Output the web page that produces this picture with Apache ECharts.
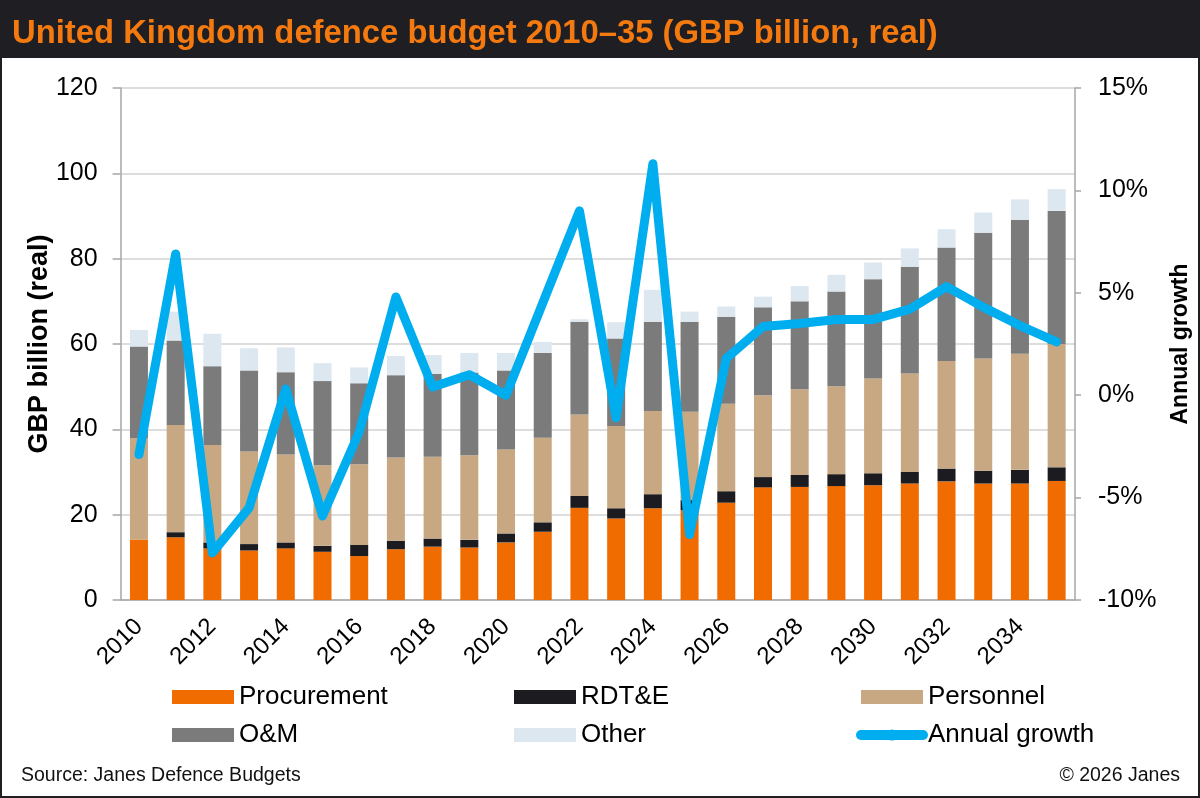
<!DOCTYPE html>
<html>
<head>
<meta charset="utf-8">
<title>United Kingdom defence budget 2010-35</title>
<script src="https://cdn.jsdelivr.net/npm/echarts@6.0.0/dist/echarts.min.js"></script>
<style>
html, body { margin: 0; padding: 0; background: #1f1e23; }
#chart { width: 1200px; height: 798px; }
</style>
</head>
<body>
<div id="chart"></div>
<script>
// 年份（类目轴）
var years = ['2010', '2011', '2012', '2013', '2014', '2015', '2016', '2017', '2018', '2019', '2020', '2021', '2022',
  '2023', '2024', '2025', '2026', '2027', '2028', '2029', '2030', '2031', '2032', '2033', '2034', '2035']

// 各项预算，GBP billion (real)
var procurement = [14.2, 14.7, 12.1, 11.6, 12.1, 11.3, 10.3, 11.9, 12.5, 12.3, 13.5, 16.0, 21.6,
  19.1, 21.5, 21.0, 22.8, 26.4, 26.5, 26.7, 26.9, 27.3, 27.8, 27.3, 27.3, 27.9]
var rdte = [0.0, 1.2, 1.4, 1.5, 1.4, 1.4, 2.6, 2.0, 1.9, 1.8, 2.1, 2.2, 2.8,
  2.4, 3.3, 2.4, 2.7, 2.4, 2.8, 2.8, 2.8, 2.7, 3.0, 3.0, 3.2, 3.2]
var personnel = [23.7, 25.1, 22.8, 21.7, 20.6, 18.9, 18.9, 19.5, 19.2, 19.8, 19.7, 19.8, 19.1,
  19.3, 19.5, 20.7, 20.5, 19.2, 20.1, 20.6, 22.2, 23.1, 25.2, 26.3, 27.2, 28.9]
var oandm = [21.5, 19.8, 18.5, 19.0, 19.3, 19.7, 19.0, 19.3, 19.4, 19.4, 18.5, 19.9, 21.7,
  20.5, 20.9, 21.1, 20.4, 20.6, 20.6, 22.2, 23.3, 25.0, 26.6, 29.5, 31.4, 31.2]
var other = [3.9, 6.8, 7.6, 5.2, 5.8, 4.2, 3.7, 4.5, 4.4, 4.6, 4.1, 2.6, 0.6,
  3.8, 7.5, 2.4, 2.4, 2.5, 3.6, 3.9, 3.9, 4.3, 4.3, 4.7, 4.8, 5.1]

// 年增长率 (%)
var growth = [-2.9, 6.9, -7.7, -5.5, 0.3, -5.9, -1.8, 4.8, 0.4, 1.0, 0.0, 4.5, 9.0,
  -1.1, 11.3, -6.8, 1.8, 3.35, 3.5, 3.7, 3.7, 4.2, 5.3, 4.3, 3.4, 2.6]

var FONT = "'Liberation Sans', Arial, sans-serif"
var AXIS_GREY = '#a6a6a6'

var chart = echarts.init(document.getElementById('chart'))

function barSeries (name, data, color) {
  return {
    name: name,
    type: 'bar',
    stack: 'total',
    barWidth: 18,
    itemStyle: { color: color },
    data: data
  }
}

function legendCol (left, names) {
  return {
    orient: 'vertical',
    left: left,
    top: 679,
    itemWidth: 62,
    itemHeight: 14,
    itemGap: 12,
    textStyle: { fontFamily: FONT, fontSize: 26, color: '#000' },
    data: names
  }
}

var option = {
  backgroundColor: '#1f1e23',
  animation: false,
  textStyle: { fontFamily: FONT },
  graphic: {
    elements: [
      {
        type: 'rect',
        z: -100,
        silent: true,
        shape: { x: 2, y: 58, width: 1196, height: 738 },
        style: { fill: '#ffffff' }
      }
    ]
  },
  title: [
    {
      text: 'United Kingdom defence budget 2010–35 (GBP billion, real)',
      left: 12,
      top: 17,
      padding: 0,
      textStyle: { fontFamily: FONT, fontSize: 32.8, fontWeight: 'bold', color: '#f47a10' }
    },
    {
      text: 'Source: Janes Defence Budgets',
      left: 21,
      top: 766,
      padding: 0,
      textStyle: { fontFamily: FONT, fontSize: 19.5, fontWeight: 'normal', color: '#111' }
    },
    {
      text: '© 2026 Janes',
      right: 20,
      top: 766,
      padding: 0,
      textStyle: { fontFamily: FONT, fontSize: 19.5, fontWeight: 'normal', color: '#111' }
    }
  ],
  legend: [
    legendCol(167, [{ name: 'Procurement', icon: 'rect' }, { name: 'O&M', icon: 'rect' }]),
    legendCol(509, [{ name: 'RDT&E', icon: 'rect' }, { name: 'Other', icon: 'rect' }]),
    legendCol(851, [{ name: 'Personnel', icon: 'rect' }, {
      name: 'Annual growth',
      lineStyle: { width: 10, cap: 'round' }
    }])
  ],
  grid: {
    left: 120.6,
    right: 123.5,
    top: 88,
    bottom: 198,
    containLabel: false
  },
  xAxis: {
    type: 'category',
    data: years,
    boundaryGap: true,
    axisLine: { lineStyle: { color: AXIS_GREY, width: 1.5 } },
    axisTick: { interval: 0, length: 7, lineStyle: { color: AXIS_GREY, width: 1.5 } },
    axisLabel: {
      interval: 1,
      rotate: 45,
      margin: 23,
      fontFamily: FONT,
      fontSize: 24,
      color: '#000'
    }
  },
  yAxis: [
    {
      type: 'value',
      min: 0,
      max: 120,
      interval: 20,
      name: 'GBP billion (real)',
      nameLocation: 'middle',
      nameRotate: 90,
      nameGap: 68,
      nameMoveOverlap: false,
      nameTextStyle: { fontFamily: FONT, fontSize: 27, fontWeight: 'bold', color: '#000' },
      axisLine: { show: true, lineStyle: { color: AXIS_GREY, width: 1.5 } },
      axisTick: { show: true, length: 8, lineStyle: { color: AXIS_GREY, width: 1.5 } },
      axisLabel: { margin: 23, fontFamily: FONT, fontSize: 25, color: '#000' },
      splitLine: { lineStyle: { color: '#d2d2d2', width: 1.5 } }
    },
    {
      type: 'value',
      min: -10,
      max: 15,
      interval: 5,
      position: 'right',
      name: 'Annual growth',
      nameLocation: 'middle',
      nameRotate: 90,
      nameGap: 94,
      nameMoveOverlap: false,
      nameTextStyle: { fontFamily: FONT, fontSize: 23, fontWeight: 'bold', color: '#000' },
      axisLine: { show: true, lineStyle: { color: AXIS_GREY, width: 1.5 } },
      axisTick: { show: true, length: 6, lineStyle: { color: AXIS_GREY, width: 1.5 } },
      axisLabel: { margin: 23, fontFamily: FONT, fontSize: 25, color: '#000', formatter: '{value}%' },
      splitLine: { show: false }
    }
  ],
  series: [
    barSeries('Procurement', procurement, '#f06c00'),
    barSeries('RDT&E', rdte, '#1c1b20'),
    barSeries('Personnel', personnel, '#c8a882'),
    barSeries('O&M', oandm, '#7b7b7b'),
    barSeries('Other', other, '#dde7f0'),
    {
      name: 'Annual growth',
      type: 'line',
      yAxisIndex: 1,
      z: 5,
      symbol: 'none',
      showSymbol: false,
      itemStyle: { color: '#00aeef' },
      lineStyle: { color: '#00aeef', width: 9, cap: 'round', join: 'round' },
      data: growth
    }
  ]
}

chart.setOption(option)
</script>
</body>
</html>
